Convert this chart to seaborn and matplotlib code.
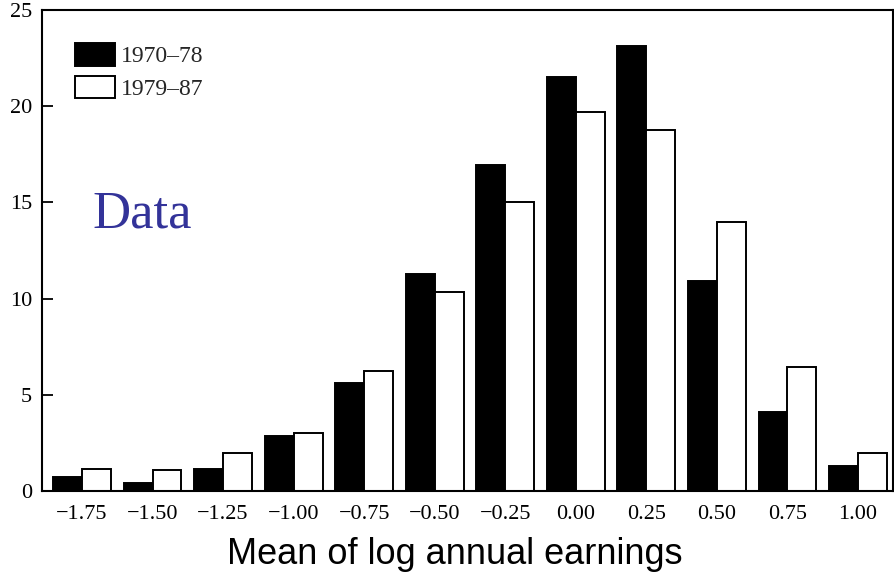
import matplotlib
matplotlib.use("Agg")
import matplotlib.pyplot as plt
import seaborn as sns
import pandas as pd

# ---- data ----
bins = ["\u22121.75", "\u22121.50", "\u22121.25", "\u22121.00", "\u22120.75", "\u22120.50",
        "\u22120.25", "0.00", "0.25", "0.50", "0.75", "1.00"]
periods = ["1970\u201378", "1979\u201387"]
share_1970_78 = [0.74, 0.40, 1.14, 2.87, 5.62, 11.30, 16.93, 21.50, 23.14, 10.90, 4.12, 1.30]
share_1979_87 = [1.13, 1.07, 1.96, 3.03, 6.23, 10.34, 15.01, 19.72, 18.75, 13.96, 6.45, 1.96]
yticks = [0, 5, 10, 15, 20, 25]

df = pd.DataFrame({
    "bin": bins * 2,
    "share": share_1970_78 + share_1979_87,
    "period": [periods[0]] * len(bins) + [periods[1]] * len(bins),
})

sns.set_style("white")
plt.rcParams["font.family"] = ["Liberation Serif", "DejaVu Serif"]

W, H = 894, 574
fig = plt.figure(figsize=(W / 100, H / 100), dpi=100)
ax = fig.add_axes([42 / W, (H - 491) / H, (893 - 42) / W, (491 - 10) / H])

sns.barplot(data=df, x="bin", y="share", hue="period", order=bins, hue_order=periods,
            palette=["black", "white"], edgecolor="black", linewidth=1.4,
            width=0.82, saturation=1, ax=ax)

ax.set_xlim(-0.567, 11.496)
ax.set_ylim(0, 25)
ax.set_yticks(yticks)
ax.set_yticklabels([str(v) for v in yticks])
ax.set_xlabel("")
ax.set_ylabel("")

for s in ax.spines.values():
    s.set_visible(True)
    s.set_color("black")
    s.set_linewidth(1.5)

ax.tick_params(axis="y", direction="in", length=8, width=1.3, pad=7,
               labelsize=16, colors="black", left=True)
ax.tick_params(axis="x", length=0, pad=10, labelsize=16, colors="black")

handles, labels = ax.get_legend_handles_labels()
ax.legend(handles, labels, loc="upper left",
          bbox_to_anchor=(75 / W, (H - 43) / H), bbox_transform=fig.transFigure,
          frameon=False, fontsize=17, borderpad=0, borderaxespad=0,
          handlelength=1.7, handleheight=1.1, handletextpad=0.25, labelspacing=0.35)

fig.text(92 / W, (H - 227) / H, "Data", color="#333399", fontsize=38,
         ha="left", va="baseline", family=["Liberation Serif", "DejaVu Serif"])

fig.text(455 / W, (H - 564) / H, "Mean of log annual earnings", fontsize=26,
         ha="center", va="baseline", color="black",
         family=["Liberation Sans", "DejaVu Sans"])

fig.savefig("out.png", dpi=100)
